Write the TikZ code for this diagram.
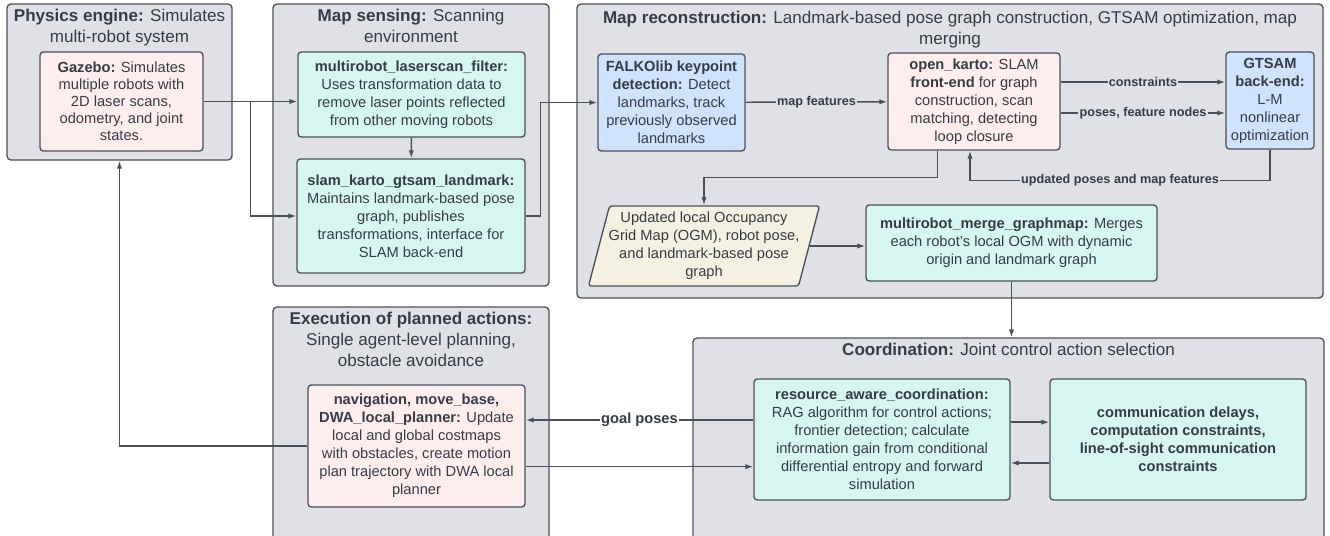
\documentclass[tikz,border=0pt]{standalone}
\usepackage{fontspec}
\setmainfont{Liberation Sans}
\usepackage{tikz}
\usetikzlibrary{arrows.meta,calc,fit,positioning}
\definecolor{stagegray}{HTML}{DFE1E6}
\definecolor{linegray}{HTML}{4B5058}
\definecolor{textgray}{HTML}{363C45}
\definecolor{mint}{HTML}{D5F6F1}
\definecolor{rose}{HTML}{FDEEED}
\definecolor{skyblue}{HTML}{CFE3FF}
\definecolor{cream}{HTML}{F5F1E2}
\tikzset{
  stage/.style={draw=linegray, fill=stagegray, line width=1pt, rounded corners=3pt, inner sep=0pt},
  stagetitle/.style={text=textgray, align=center, font=\fontsize{12.8}{15.75}\selectfont, inner sep=0pt, anchor=north},
  module/.style={draw=linegray, line width=1pt, rounded corners=2.5pt, inner sep=0pt, align=center, text=textgray, font=\fontsize{11}{13.5}\selectfont},
  tealmod/.style={module, fill=mint},
  pinkmod/.style={module, fill=rose},
  bluemod/.style={module, fill=skyblue},
  link/.style={draw=linegray, line width=1.1pt, -{Latex[length=6pt,width=4pt]}},
  linklabel/.style={text=textgray, font=\fontsize{9.5}{11}\selectfont\bfseries, fill=stagegray, inner sep=1pt},
}

\begin{document}
\begin{tikzpicture}[x=0.75pt,y=-0.75pt]
\useasboundingbox (0,0) rectangle (1330,535);

% stages
\node (phys) [stage, fit={(7,4) (232,160)}] {};
\node (sense) [stage, fit={(273,4) (549,286)}] {};
\node (recon) [stage, fit={(577,4) (1323,298)}] {};
\node (exec) [stage, fit={(273,307) (549,560)}] {};
\node (coord) [stage, fit={(693,338) (1324,560)}] {};

\node (physt) [stagetitle] at ($(phys.north)+(0,6)$) {\textbf{Physics engine:} Simulates\\multi-robot system};
\node (senset) [stagetitle] at ($(sense.north)+(0,6)$) {\textbf{Map sensing:} Scanning\\environment};
\node (recont) [stagetitle] at ($(recon.north)+(0,8)$) {\textbf{Map reconstruction:} Landmark-based pose graph construction, GTSAM optimization, map\\merging};
\node (exect) [stagetitle] at ($(exec.north)+(0,6)$) {\textbf{Execution of planned actions:}\\Single agent-level planning,\\obstacle avoidance};
\node (coordt) [stagetitle] at ($(coord.north)+(0,6)$) {\textbf{Coordination:} Joint control action selection};

% modules
\node (gazebo) [pinkmod, minimum width=122.25pt, minimum height=74.25pt, font=\fontsize{11}{12.75}\selectfont] at (121.5,101.5) {\textbf{Gazebo:} Simulates\\multiple robots with\\2D laser scans,\\odometry, and joint\\states.};
\node (filter) [tealmod, minimum width=170.25pt, minimum height=63.75pt] at (411.5,94.5) {\textbf{multirobot\_laserscan\_filter:}\\Uses transformation data to\\remove laser points reflected\\from other moving robots};
\node (slam) [tealmod, minimum width=171pt, minimum height=85.5pt] at (411,216) {\textbf{slam\_karto\_gtsam\_landmark:}\\Maintains landmark-based pose\\graph, publishes\\transformations, interface for\\SLAM back-end};
\node (falko) [bluemod, minimum width=110.25pt, minimum height=72.75pt] at (671.5,102.5) {\textbf{FALKOlib keypoint}\\\textbf{detection:} Detect\\landmarks, track\\previously observed\\landmarks};
\node (karto) [pinkmod, minimum width=129pt, minimum height=72.75pt] at (974,101.5) {\textbf{open\_karto:} SLAM\\\textbf{front-end} for graph\\construction, scan\\matching, detecting\\loop closure};
\node (gtsam) [bluemod, minimum width=66pt, minimum height=72.75pt] at (1270,100.5) {\textbf{GTSAM}\\\textbf{back-end:}\\L-M\\nonlinear\\optimization};
\draw[draw=linegray, fill=cream, line width=1pt, rounded corners=2pt] (609.5,206) -- (819.5,206) -- (798.5,286) -- (588.5,286) -- cycle;
\node (ogm) [module, draw=none, minimum width=157.5pt, minimum height=60pt] at (704,246) {Updated local Occupancy\\Grid Map (OGM), robot pose,\\and landmark-based pose\\graph};
\node (merge) [tealmod, minimum width=218.25pt, minimum height=57pt] at (1011.5,243) {\textbf{multirobot\_merge\_graphmap:} Merges\\each robot's local OGM with dynamic\\origin and landmark graph};
\node (nav) [pinkmod, minimum width=162.75pt, minimum height=91.5pt] at (416.5,446) {\textbf{navigation, move\_base,}\\\textbf{DWA\_local\_planner:} Update\\local and global costmaps\\with obstacles, create motion\\plan trajectory with DWA local\\planner};
\node (rac) [tealmod, minimum width=192pt, minimum height=90.75pt] at (882,439.5) {\textbf{resource\_aware\_coordination:}\\RAG algorithm for control actions;\\frontier detection; calculate\\information gain from conditional\\differential entropy and forward\\simulation};
\node (comm) [tealmod, minimum width=192pt, minimum height=90.75pt] at (1178,439.5) {\textbf{communication delays,}\\\textbf{computation constraints,}\\\textbf{line-of-sight communication}\\\textbf{constraints}};

% connectors
\draw[link] (gazebo.east) -- (gazebo.east -| filter.west);
\draw[link] (gazebo.east) -- ++(47,0) |- (slam.west);
\draw[link] (filter) -- (slam);
\draw[link] (slam.east) -- ++(15,0) |- (falko.west);
\draw[link] (falko) -- node[linklabel] (lblmap) {map features} (karto);
\draw[link] ([yshift=14.6pt]karto.east) -- node[linklabel] (lblcon) {constraints} ([yshift=14.6pt]karto.east -| gtsam.west);
\draw[link] ([yshift=-8.6pt]karto.east) -- node[linklabel] (lblpos) {poses, feature nodes} ([yshift=-8.6pt]karto.east -| gtsam.west);
\draw[link] (gtsam.south) -- ++(0,31) -| node[linklabel, pos=0.25] (lblupd) {updated poses and map features} ([xshift=-3pt]karto.south);
\draw[link] ([xshift=-27.5pt]karto.south) -- ++(0,27) -| (ogm.north);
\draw[link] (ogm.east) -- (ogm.east -| merge.west);
\draw[link] (merge.south) -- (merge.south |- coord.north);
\draw[link] ([yshift=14.6pt]rac.west) -- node[linklabel, fill=white, font=\fontsize{11}{13}\selectfont\bfseries] (lblgoal) {goal poses} ([yshift=14.6pt]rac.west -| nav.east);
\draw[link] ([yshift=-15.5pt]nav.east) -- ([yshift=-15.5pt]nav.east -| rac.west);
\draw[link] ([yshift=13pt]rac.east) -- ([yshift=13pt]rac.east -| comm.west);
\draw[link] ([yshift=-17.6pt]comm.west) -- ([yshift=-17.6pt]comm.west -| rac.east);
\draw[link] (nav.west) -| (phys.south);
\end{tikzpicture}
\end{document}
